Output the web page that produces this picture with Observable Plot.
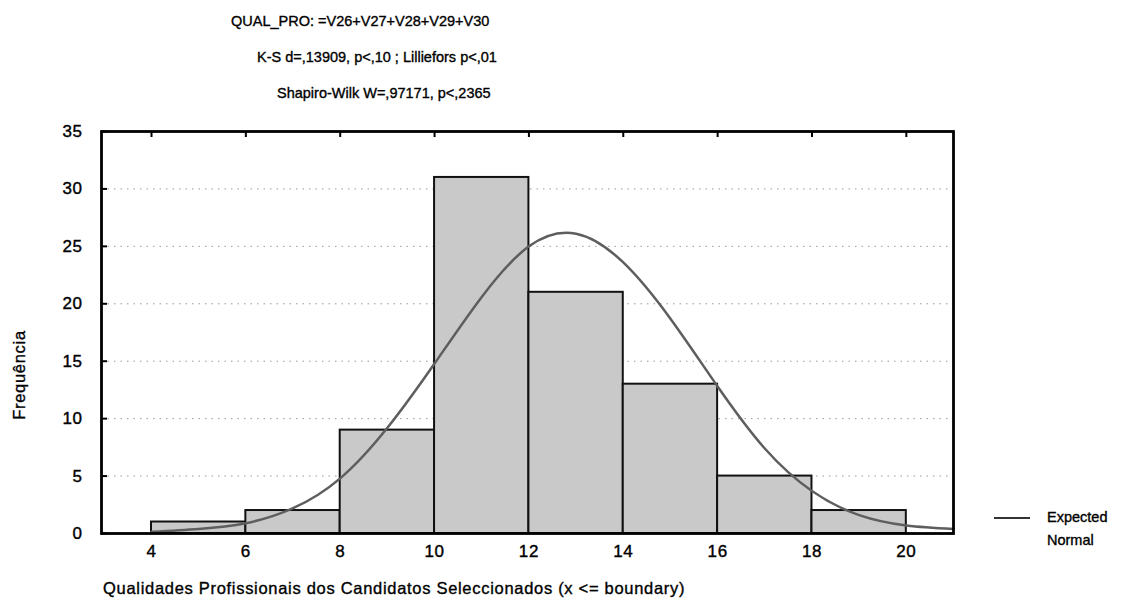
<!DOCTYPE html>
<html>
<head>
<meta charset="utf-8">
<script src="https://cdn.jsdelivr.net/npm/d3@7"></script>
<script src="https://cdn.jsdelivr.net/npm/@observablehq/plot@0.6"></script>
<style>
  html, body { margin: 0; padding: 0; background: #fff; }
  #wrap { position: relative; width: 1136px; height: 602px; font-family: "Liberation Sans", Arial, sans-serif; color: #000; }
  .t { position: absolute; font-size: 14.5px; white-space: nowrap; -webkit-text-stroke: 0.35px #000; }
  .ax { font-size: 16.5px; letter-spacing: 0.7px; }
  #chart { position: absolute; left: 0; top: 0; }
  #chart svg g[aria-label="x-axis tick label"] text,
  #chart svg g[aria-label="y-axis tick label"] text { letter-spacing: 0.6px; stroke: #000; stroke-width: 0.4px; }
</style>
</head>
<body>
<div id="wrap">
  <div id="chart"></div>
  <div class="t" style="left:231px; top:13px;">QUAL_PRO: =V26+V27+V28+V29+V30</div>
  <div class="t" style="left:257px; top:49px;">K-S d=,13909, p&lt;,10 ; Lilliefors p&lt;,01</div>
  <div class="t" style="left:277px; top:85px;">Shapiro-Wilk W=,97171, p&lt;,2365</div>
  <div class="t ax" style="left:103px; top:579px;">Qualidades Profissionais dos Candidatos Seleccionados (x &lt;= boundary)</div>
  <div class="t ax" style="left:19px; top:375px; transform: translate(-50%,-50%) rotate(-90deg);">Frequência</div>
  <div class="t" style="left:1047px; top:509px;">Expected</div>
  <div class="t" style="left:1047px; top:532px;">Normal</div>
  <div style="position:absolute; left:994px; top:517px; width:36px; height:0; border-top:2px solid #333;"></div>
</div>
<script>
// Histogram bins (lower/upper boundaries) and counts
const binLo = [4, 6, 8, 10, 12, 14, 16, 18];
const binHi = [6, 8, 10, 12, 14, 16, 18, 20];
const counts = [1, 2, 9, 31, 21, 13, 5, 2];

// Expected normal curve
const curveX = [4, 5, 6, 7, 8, 9, 10, 11, 12, 13, 14, 15, 16, 17, 18, 19, 20, 21];
const curveY = [0.15, 0.4, 0.9, 2.2, 4.8, 9.2, 14.8, 20.6, 25.0, 26.1, 23.6, 18.7, 12.8, 7.4, 3.7, 1.6, 0.7, 0.4];

// Axis ticks
const xTicks = [4, 6, 8, 10, 12, 14, 16, 18, 20];
const yTicks = [0, 5, 10, 15, 20, 25, 30, 35];
const gridY = [5, 10, 15, 20, 25, 30];

const bars = binLo.map((lo, i) => ({lo, hi: binHi[i], n: counts[i]}));
const curve = curveX.map((x, i) => ({x, y: curveY[i]}));

const plot = Plot.plot({
  width: 1136,
  height: 602,
  marginLeft: 101,
  marginRight: 183,
  marginTop: 131,
  marginBottom: 69,
  style: {fontFamily: "'Liberation Sans', Arial, sans-serif", fontSize: "17px", color: "#000", background: "transparent"},
  x: {domain: [2.94, 21], label: null},
  y: {domain: [0, 35], label: null},
  marks: [
    Plot.ruleY(gridY, {stroke: "#999", strokeWidth: 1, strokeDasharray: "1.5,5"}),
    Plot.rectY(bars, {x1: "lo", x2: "hi", y: "n", fill: "#c9c9c9", stroke: "#111", strokeWidth: 2}),
    Plot.line(curve, {x: "x", y: "y", stroke: "#5e5e5e", strokeWidth: 2.5, curve: "natural"}),
    Plot.frame({stroke: "#000", strokeWidth: 2.8}),
    Plot.axisX(xTicks, {tickSize: 0, tickPadding: 11, fontSize: 17}),
    Plot.axisX(xTicks, {anchor: "top", tickSize: -5, text: null, strokeWidth: 2}),
    Plot.axisY(yTicks, {tickSize: 0, tickPadding: 19, fontSize: 17}),
    Plot.axisY(yTicks, {tickSize: -6, text: null, strokeWidth: 2})
  ]
});
document.getElementById("chart").appendChild(plot);
</script>
</body>
</html>
